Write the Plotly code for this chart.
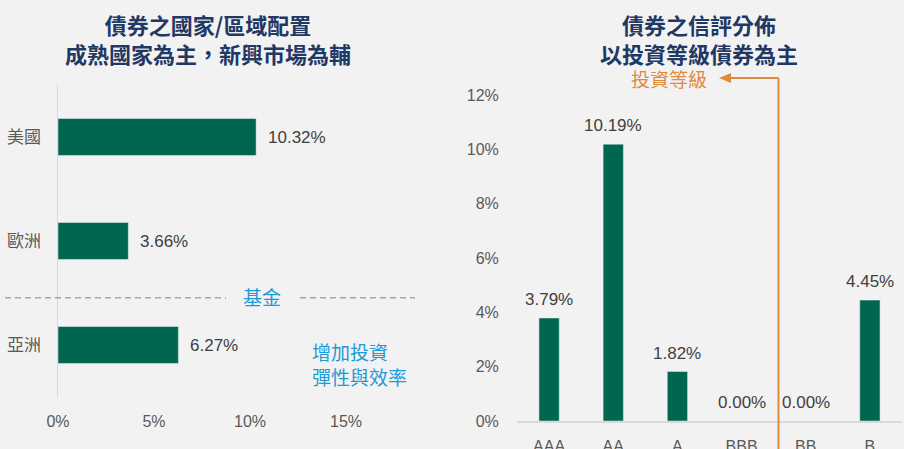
import plotly.graph_objects as go

# ---- data ----
regions = ["美國", "歐洲", "亞洲"]
region_values = [10.32, 3.66, 6.27]
region_ticks = [0, 5, 10, 15]
region_ticktext = ["0%", "5%", "10%", "15%"]

ratings = ["AAA", "AA", "A", "BBB", "BB", "B"]
rating_values = [3.79, 10.19, 1.82, 0.00, 0.00, 4.45]
rating_ticks = [0, 2, 4, 6, 8, 10, 12]
rating_ticktext = ["0%", "2%", "4%", "6%", "8%", "10%", "12%"]

title_left = "債券之國家/區域配置<br>成熟國家為主，新興市場為輔"
title_right = "債券之信評分佈<br>以投資等級債券為主"
note_fund = "基金"
note_flex = "增加投資<br>彈性與效率"
note_ig = "投資等級"

# ---- style ----
W, H = 904, 449
BG = "#f2f2f2"
BAR = "#00664f"
NAVY = "#1f3864"
BLUE = "#1a9ad6"
ORANGE = "#e08a3c"
TXT = "#404040"
TICK = "#595959"
FONT = "Liberation Sans, Noto Sans CJK TC, sans-serif"
CJK = "Noto Sans CJK TC, sans-serif"


def px(x):
    return x / W


def py(y):
    return 1 - y / H


fig = go.Figure()

fig.add_trace(go.Bar(
    y=regions, x=region_values, orientation="h",
    marker=dict(color=BAR), width=0.355,
    xaxis="x", yaxis="y", hoverinfo="skip", showlegend=False,
))
fig.add_trace(go.Bar(
    x=ratings, y=rating_values,
    marker=dict(color=BAR), width=0.316,
    xaxis="x2", yaxis="y2", hoverinfo="skip", showlegend=False,
))

annotations = []
for r, v in zip(regions, region_values):
    annotations.append(dict(
        x=v, y=r, xref="x", yref="y", text=f"{v:.2f}%", showarrow=False,
        xanchor="left", yanchor="middle", xshift=10,
        font=dict(family=FONT, size=17, color=TXT),
    ))
for r, v in zip(ratings, rating_values):
    annotations.append(dict(
        x=r, y=v, xref="x2", yref="y2", text=f"{v:.2f}%", showarrow=False,
        xanchor="center", yanchor="bottom", yshift=7,
        font=dict(family=FONT, size=17, color=TXT),
    ))

for cx, text in ((208, title_left), (698.5, title_right)):
    annotations.append(dict(
        x=px(cx), y=py(38.5), xref="paper", yref="paper", text=text,
        showarrow=False, xanchor="center", yanchor="middle",
        font=dict(family=CJK, size=22, color=NAVY, weight="bold"),
    ))

annotations += [
    dict(x=px(262), y=py(296), xref="paper", yref="paper", text=note_fund,
         showarrow=False, xanchor="center", yanchor="middle",
         font=dict(family=CJK, size=19, color=BLUE)),
    dict(x=px(310), y=py(364), xref="paper", yref="paper", text=note_flex,
         showarrow=False, xanchor="left", yanchor="middle", align="left",
         font=dict(family=CJK, size=19, color=BLUE)),
    dict(x=px(709), y=py(78.5), xref="paper", yref="paper", text=note_ig,
         showarrow=False, xanchor="right", yanchor="middle",
         font=dict(family=CJK, size=19, color=ORANGE)),
]

shapes = [
    dict(type="line", xref="paper", yref="paper", x0=px(5), x1=px(226),
         y0=py(297.7), y1=py(297.7), line=dict(color="#a6a6a6", width=1.5, dash="6px,4px")),
    dict(type="line", xref="paper", yref="paper", x0=px(300), x1=px(415),
         y0=py(297.7), y1=py(297.7), line=dict(color="#a6a6a6", width=1.5, dash="6px,4px")),
    dict(type="line", xref="paper", yref="paper", x0=px(778.5), x1=px(778.5),
         y0=py(78), y1=py(449), line=dict(color=ORANGE, width=2)),
    dict(type="line", xref="paper", yref="paper", x0=px(728), x1=px(778.5),
         y0=py(78), y1=py(78), line=dict(color=ORANGE, width=2)),
    dict(type="path", xref="paper", yref="paper",
         path=f"M {px(719)} {py(78)} L {px(731)} {py(73)} L {px(731)} {py(83)} Z",
         fillcolor=ORANGE, line=dict(color=ORANGE, width=0)),
]

fig.update_layout(
    width=W, height=H,
    margin=dict(l=0, r=0, t=0, b=0, pad=0),
    paper_bgcolor=BG, plot_bgcolor=BG,
    font=dict(family=FONT, size=16, color=TICK),
    showlegend=False,
    bargap=0,
    annotations=annotations,
    shapes=shapes,
    xaxis=dict(
        domain=[px(58), px(418)], range=[0, 18.75], automargin=False,
        tickvals=region_ticks, ticktext=region_ticktext,
        showgrid=False, zeroline=False, showline=False,
        ticks="outside", ticklen=10, tickcolor="rgba(0,0,0,0)",
        tickfont=dict(family=FONT, size=16, color=TICK), fixedrange=True,
    ),
    yaxis=dict(
        domain=[py(397), py(85)], categoryorder="array", categoryarray=regions,
        autorange="reversed", automargin=False,
        showgrid=False, zeroline=False, showline=True, linecolor="#d9d9d9", linewidth=1.5,
        ticks="outside", ticklen=12, tickcolor="rgba(0,0,0,0)",
        tickfont=dict(family=FONT, size=17, color=TICK), fixedrange=True,
    ),
    xaxis2=dict(
        domain=[px(517), px(902)], anchor="y2", automargin=False,
        showgrid=False, zeroline=False, showline=True, linecolor="#d9d9d9", linewidth=1.5,
        ticks="outside", ticklen=10, tickcolor="rgba(0,0,0,0)",
        tickfont=dict(family=FONT, size=16, color=TICK), fixedrange=True,
    ),
    yaxis2=dict(
        domain=[py(421), py(95)], range=[0, 12], anchor="x2", automargin=False,
        tickvals=rating_ticks, ticktext=rating_ticktext,
        showgrid=False, zeroline=False, showline=False,
        ticks="outside", ticklen=14, tickcolor="rgba(0,0,0,0)",
        tickfont=dict(family=FONT, size=16, color=TICK), fixedrange=True,
    ),
)

fig.write_html(
    "out.html",
    config={"displayModeBar": False, "staticPlot": True},
    post_script="document.body.style.margin='0';document.body.style.background='#f2f2f2';",
)
